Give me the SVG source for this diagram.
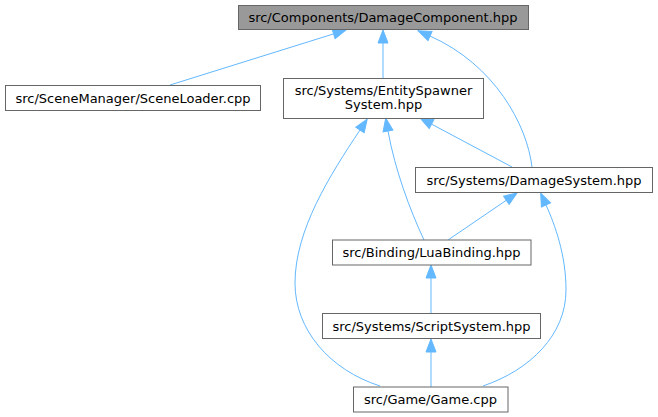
<svg xmlns="http://www.w3.org/2000/svg" width="658" height="417" viewBox="0 0 658 417">
<style>
.node rect{fill:#ffffff;stroke:#666666;stroke-width:1}
#n0 rect{fill:#999999}
.node text{font-family:"DejaVu Sans",sans-serif;font-size:13px;fill:#000000;text-anchor:middle}
.edges path{fill:none;stroke:#63b8ff;stroke-width:1;marker-end:url(#arr)}
</style>
<defs>
<marker id="arr" markerUnits="userSpaceOnUse" markerWidth="14" markerHeight="11" refX="0" refY="5" orient="auto" overflow="visible">
<path d="M0,0 L13,5 L0,10 Z" fill="#63b8ff" stroke="#63b8ff" stroke-width="1"/>
</marker>
</defs>
<rect width="658" height="417" fill="#ffffff"/>
<g id="edges" class="edges">
<path d="M170,85 L333.6,33.9"/>
<path d="M383,78 L383,43"/>
<path d="M532,167 C527,125 495,65 430,36"/>
<path d="M512,167 L431.5,124.1"/>
<path d="M424,240 C410,210 395,170 388,131"/>
<path d="M380,386 C330,370 295,330 295,283 C295,230 330,175 360,130"/>
<path d="M448,240 L506.3,200.3"/>
<path d="M483,386 C530,370 566,335 566,290 C566,255 555,225 546,205"/>
<path d="M431,313 L431,278"/>
<path d="M431,387 L431,352"/>
</g>
<g id="n0" class="node"><rect x="238.5" y="5.5" width="290" height="24"/><text x="383" y="22">src/Components/DamageComponent.hpp</text></g>
<g id="n1" class="node"><rect x="5.5" y="85.5" width="255" height="25"/><text x="133" y="102.5">src/SceneManager/SceneLoader.cpp</text></g>
<g id="n2" class="node"><rect x="283.5" y="78.5" width="200" height="40"/><text x="383.5" y="95">src/Systems/EntitySpawner</text><text x="383.5" y="109">System.hpp</text></g>
<g id="n3" class="node"><rect x="415.5" y="167.5" width="237" height="25"/><text x="534" y="184.5">src/Systems/DamageSystem.hpp</text></g>
<g id="n4" class="node"><rect x="332.5" y="240" width="198.5" height="25"/><text x="431.5" y="257">src/Binding/LuaBinding.hpp</text></g>
<g id="n5" class="node"><rect x="322.5" y="313.5" width="218" height="25"/><text x="431.5" y="330.5">src/Systems/ScriptSystem.hpp</text></g>
<g id="n6" class="node"><rect x="353.5" y="387" width="154.5" height="25"/><text x="430.5" y="404">src/Game/Game.cpp</text></g>
</svg>
